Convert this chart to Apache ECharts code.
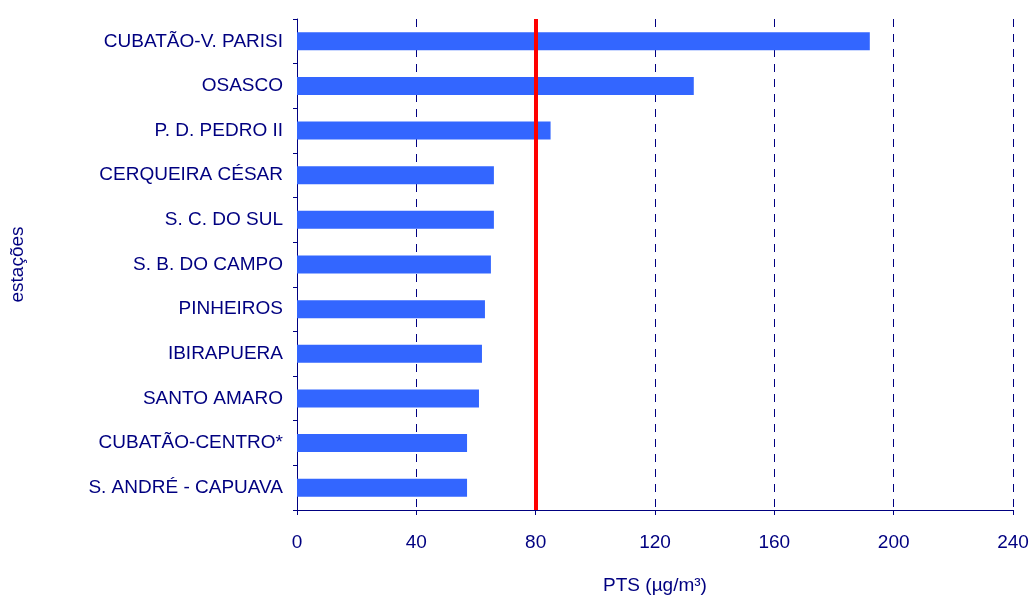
<!DOCTYPE html>
<html><head><meta charset="utf-8">
<script src="https://cdn.jsdelivr.net/npm/echarts@6/dist/echarts.min.js"></script>
<style>html,body{margin:0;padding:0;background:#fff}#c{width:1034px;height:604px}</style>
</head><body><div id="c"></div>
<script>
const categories = ["CUBATÃO-V. PARISI","OSASCO","P. D. PEDRO II","CERQUEIRA CÉSAR","S. C. DO SUL","S. B. DO CAMPO","PINHEIROS","IBIRAPUERA","SANTO AMARO","CUBATÃO-CENTRO*","S. ANDRÉ - CAPUAVA"];
const values = [192,133,85,66,66,65,63,62,61,57,57];
const limitValue = 80;
const xTicks = {min:0,max:240,interval:40};

const navy = '#000080';
const font = 'Arial, "Liberation Sans", sans-serif';
const chart = echarts.init(document.getElementById('c'));
chart.setOption({
  animation:false,
  grid:{left:297,right:21,top:19,bottom:94},
  xAxis:{
    type:'value',min:xTicks.min,max:xTicks.max,interval:xTicks.interval,
    name:'PTS (µg/m³)',nameLocation:'middle',nameGap:66,
    nameTextStyle:{color:navy,fontSize:19,fontFamily:font},
    axisLine:{show:true,lineStyle:{color:navy,width:1}},
    axisTick:{show:true,length:5,lineStyle:{color:navy}},
    axisLabel:{color:navy,fontSize:19,fontFamily:font,margin:23},
    splitLine:{show:true,lineStyle:{color:navy,type:[8,7],width:1}}
  },
  yAxis:{
    type:'category',data:categories,inverse:true,
    name:'estações',nameLocation:'middle',nameGap:270,
    nameTextStyle:{color:navy,fontSize:19,fontFamily:font},
    axisLine:{show:true,lineStyle:{color:navy,width:1}},
    axisTick:{show:true,length:4,lineStyle:{color:navy}},
    axisLabel:{color:navy,fontSize:19,fontFamily:font,margin:14},
    splitLine:{show:false}
  },
  series:[{
    type:'bar',data:values,barWidth:18,
    itemStyle:{color:'#3366FF'},
    markLine:{
      silent:true,symbol:'none',label:{show:false},
      lineStyle:{color:'#FF0000',width:4,type:'solid'},
      data:[{xAxis:limitValue}]
    }
  }]
});
</script></body></html>
